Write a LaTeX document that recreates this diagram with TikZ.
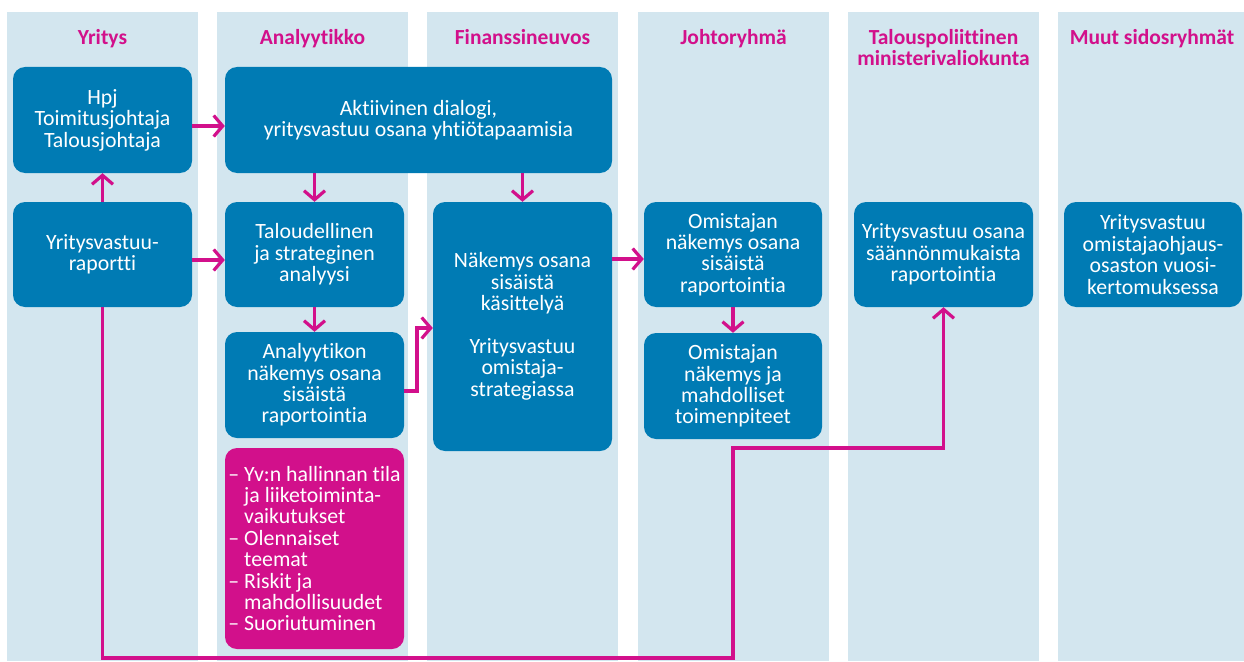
\documentclass[tikz,border=0pt]{standalone}
\usepackage{fontspec}
\setmainfont{Carlito}[Ligatures=NoCommon]
\usetikzlibrary{arrows.meta}
\definecolor{lanebg}{RGB}{211,230,239}
\definecolor{boxblue}{RGB}{0,123,180}
\definecolor{mag}{RGB}{210,16,139}
\begin{document}
\begin{tikzpicture}[x=1pt,y=-1pt,
 lanefill/.style={fill=lanebg, draw=none},
 ttl/.style={text=mag, font=\fontsize{21.5}{21}\selectfont\bfseries, align=center, anchor=base, inner sep=0},
 bluebox/.style={fill=boxblue, rounded corners=12pt, text=white, align=center, inner sep=0, minimum width=179pt, minimum height=105pt, font=\fontsize{21.8}{21.4}\selectfont},
 magbox/.style={bluebox, fill=mag},
 arr/.style={draw=mag, line width=3.2pt, -{Straight Barb[length=9pt,width=21pt]}},
]
\useasboundingbox (0,0) rectangle (1244,661);
% lanes
\fill[lanefill] (7,12) rectangle (198,661);
\fill[lanefill] (217,12) rectangle (408,661);
\fill[lanefill] (427,12) rectangle (618,661);
\fill[lanefill] (638,12) rectangle (829,661);
\fill[lanefill] (848,12) rectangle (1039,661);
\fill[lanefill] (1058,12) rectangle (1244,661);
% titles
\node[ttl] (t1) at (102.5,45) {Yritys};
\node[ttl] (t2) at (312.5,45) {Analyytikko};
\node[ttl] (t3) at (522.5,45) {Finanssineuvos};
\node[ttl] (t4) at (733.5,45) {Johtoryhmä};
\node[ttl,anchor=north] (t5) at (943.5,29) {Talouspoliittinen\\ministerivaliokunta};
\node[ttl] (t6) at (1152,45) {Muut sidosryhmät};
% boxes
\node[bluebox, minimum height=106pt] (hpj) at (102.5,120) {Hpj\\Toimitusjohtaja\\Talousjohtaja};
\node[bluebox, minimum width=387pt, minimum height=106pt] (akt) at (418.5,120) {Aktiivinen dialogi,\\yritysvastuu osana yhtiötapaamisia};
\node[bluebox] (rap) at (102.5,254.5) {Yritysvastuu-\\raportti};
\node[bluebox] (tal) at (314.5,254.5) {Taloudellinen\\ja strateginen\\analyysi};
\node[bluebox, minimum height=249pt] (nak) at (522.5,326.5) {Näkemys osana\\sisäistä\\käsittelyä\\[21.4pt]Yritysvastuu\\omistaja-\\strategiassa};
\node[bluebox, minimum width=178pt] (om1) at (733,254.5) {Omistajan\\näkemys osana\\sisäistä\\raportointia};
\node[bluebox] (yvs) at (943.5,254.5) {Yritysvastuu osana\\säännönmukaista\\raportointia};
\node[bluebox, minimum width=178pt] (muu) at (1153,254.5) {Yritysvastuu\\omistajaohjaus-\\osaston vuosi-\\kertomuksessa};
\node[bluebox, minimum height=106pt] (ana) at (314.5,385) {Analyytikon\\näkemys osana\\sisäistä\\raportointia};
\node[bluebox, minimum width=178pt, minimum height=106pt] (om2) at (733,386) {Omistajan\\näkemys ja\\mahdolliset\\toimenpiteet};
\node[magbox, minimum height=201pt, align=left] (lst) at (314.5,548.5) {– Yv:n hallinnan tila\\\phantom{– }ja liiketoiminta-\\\phantom{– }vaikutukset\\– Olennaiset\\\phantom{– }teemat\\– Riskit ja\\\phantom{– }mahdollisuudet\\– Suoriutuminen};
% connector corner points
\coordinate (k1) at (417,391);
\coordinate (k2) at (417,328);
\coordinate (ca) at (733,658);
\coordinate (cb) at (733,448);
% arrows
\draw[arr] (hpj.east |- 0,126) -- (akt.west |- 0,126);
\draw[arr] (rap.north) -- (hpj.south);
\draw[arr] (rap.east |- 0,260) -- (tal.west |- 0,260);
\draw[arr] (akt.south -| tal.north) -- (tal.north);
\draw[arr] (akt.south -| nak.north) -- (nak.north);
\draw[arr] (tal.south) -- (ana.north);
\draw[arr] (ana.east |- k1) -- (k1) -- (k2) -- (nak.west |- k2);
\draw[arr] (nak.east |- 0,259) -- (om1.west |- 0,259);
\draw[arr] (om1.south) -- (om2.north);
\draw[arr] (rap.south) |- (ca) -- (cb) -| (yvs.south);
\end{tikzpicture}
\end{document}
